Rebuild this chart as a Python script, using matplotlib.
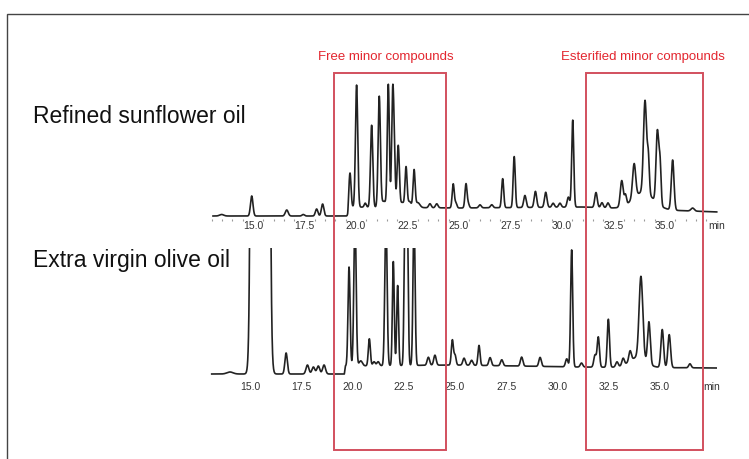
import numpy as np
import matplotlib.pyplot as plt
import matplotlib.transforms as mtransforms
from matplotlib.patches import Rectangle
from matplotlib.ticker import MultipleLocator

# Refined sunflower oil: peak retention time (min), height, width (sigma, min)
sun_rt = [13.48, 14.94, 16.64, 17.44, 18.09, 18.38, 19.71, 20.03, 20.45, 20.76,
          21.13, 21.35, 21.57, 21.78, 21.86, 22.05, 22.25, 22.43, 22.6, 22.82,
          23.0, 23.59, 23.92, 24.72, 24.85, 25.34, 25.45, 26.02, 26.59, 27.12,
          27.68, 28.20, 28.71, 29.21, 29.57, 29.9, 30.31, 30.52, 31.65, 31.94,
          32.23, 32.90, 33.08, 33.50, 34.03, 34.19, 34.63, 34.76, 35.37, 36.34,
          33.95]
sun_h = [1.5, 20, 6, 1.5, 7, 12, 34, 122, 4, 82,
         110, 6, 122, 111, 48, 62, 5, 40, 6, 37,
         5, 4, 4, 24, 5, 24, 4, 3, 3, 29,
         51, 12, 16, 15, 4, 4, 10, 87, 15, 5,
         5, 26, 10, 34, 92, 35, 72, 40, 50, 3,
         17]
sun_w = [0.1, 0.06, 0.07, 0.06, 0.06, 0.06, 0.05, 0.055, 0.05, 0.055,
         0.055, 0.12, 0.05, 0.05, 0.045, 0.055, 0.08, 0.05, 0.08, 0.05,
         0.1, 0.06, 0.06, 0.05, 0.05, 0.05, 0.05, 0.06, 0.06, 0.05,
         0.05, 0.06, 0.06, 0.06, 0.06, 0.06, 0.06, 0.05, 0.06, 0.06,
         0.06, 0.07, 0.05, 0.075, 0.075, 0.05, 0.065, 0.05, 0.065, 0.08,
         0.5]
sun_base_rt = [13.0, 19.6, 19.65, 25.0, 31.0, 37.6]
sun_base = [0, 0, 9, 8, 9, 4]

# Extra virgin olive oil
oli_rt = [14.02, 15.5, 16.76, 17.80, 18.09, 18.33, 18.61, 19.83, 20.12, 20.4,
          20.82, 21.05, 21.25, 21.63, 21.99, 22.20, 22.56, 22.67, 23.0, 23.70,
          24.02, 24.87, 25.0, 25.44, 25.81, 26.17, 26.71, 27.28, 28.25, 29.15,
          30.45, 30.69, 31.17, 31.83, 31.99, 32.48, 32.9, 33.2, 33.54, 34.07,
          34.46, 35.11, 35.45, 36.46, 33.9]
oli_h = [2, 60000, 21, 9, 7, 8, 9, 99, 150, 5,
         27, 4, 4, 150, 104, 80, 150, 150, 150, 8,
         10, 25, 10, 7, 5, 20, 8, 6, 9, 9,
         8, 117, 4, 12, 30, 48, 5, 7, 10, 82,
         42, 38, 33, 4, 10]
oli_w = [0.15, 0.15, 0.06, 0.07, 0.07, 0.07, 0.07, 0.05, 0.055, 0.08,
         0.05, 0.06, 0.06, 0.055, 0.045, 0.045, 0.045, 0.045, 0.05, 0.06,
         0.06, 0.05, 0.05, 0.06, 0.06, 0.05, 0.06, 0.06, 0.06, 0.06,
         0.06, 0.05, 0.06, 0.06, 0.055, 0.055, 0.06, 0.06, 0.06, 0.09,
         0.065, 0.065, 0.065, 0.06, 0.4]
oli_base_rt = [13.0, 19.6, 19.65, 25.0, 31.0, 37.8]
oli_base = [0, 0, 8, 9, 7, 6]

ticks = [15, 17.5, 20, 22.5, 25, 27.5, 30, 32.5, 35, 37.5]
tick_labels = ['15.0', '17.5', '20.0', '22.5', '25.0', '27.5', '30.0', '32.5', '35.0', 'min']

free_zone = (18.93, 24.37)
ester_zone = (31.17, 36.84)
zone_names = ['Free minor compounds', 'Esterified minor compounds']


def trace(t, rt, h, w, base_rt, base):
    y = np.interp(t, base_rt, base)
    for c, a, s in zip(rt, h, w):
        y = y + a * np.exp(-0.5 * ((t - c) / s) ** 2)
    return y


fig = plt.figure(figsize=(7.49, 4.59), dpi=100)
W, H = 749, 459
line_col = '#222222'

# top chromatogram
ax1 = fig.add_axes([209.7 / W, (H - 219) / H, 513 / W, 146 / H])
t1 = np.linspace(13.06, 37.51, 4000)
ax1.plot(t1, trace(t1, sun_rt, sun_h, sun_w, sun_base_rt, sun_base), color=line_col, lw=1.2)
ax1.set_xlim(12.9, 37.8)
ax1.set_ylim(-3, 143)

# bottom chromatogram
ax2 = fig.add_axes([207 / W, (H - 376) / H, 510.4 / W, 128 / H])
t2 = np.linspace(13.13, 37.77, 4000)
ax2.plot(t2, trace(t2, oli_rt, oli_h, oli_w, oli_base_rt, oli_base), color=line_col, lw=1.2)
ax2.set_xlim(12.9, 37.8)
ax2.set_ylim(-2, 126)

for ax, pad in [(ax1, 1.5), (ax2, 4)]:
    for sp in ax.spines.values():
        sp.set_visible(False)
    ax.set_yticks([])
    ax.set_xticks(ticks)
    ax.set_xticklabels(tick_labels)
    ax.tick_params(axis='x', length=0, pad=pad, labelsize=7.5, labelcolor='#333333')
    for lab in ax.get_xticklabels():
        lab.set_fontfamily('Liberation Sans')
    ax.patch.set_visible(False)

# dotted minor ticks under the sunflower trace
ax1.xaxis.set_minor_locator(MultipleLocator(0.5))
ax1.tick_params(axis='x', which='minor', length=1.5, width=0.8, color='#999999')

# sample names
fig.text(33 / W, (H - 123) / H, 'Refined sunflower oil', fontsize=16.5,
         family='Liberation Sans', va='baseline', ha='left', color='#111111')
fig.text(33 / W, (H - 267) / H, 'Extra virgin olive oil', fontsize=16.5,
         family='Liberation Sans', va='baseline', ha='left', color='#111111')

# red boxes
red = '#d2505e'
tr = mtransforms.blended_transform_factory(ax1.transData, fig.transFigure)
y0, y1 = (H - 450) / H, (H - 73) / H
for (a, b), name, dx in zip([free_zone, ester_zone], zone_names, [-0.2, -0.1]):
    rect = Rectangle((a, y0), b - a, y1 - y0, transform=tr, fill=False,
                     edgecolor=red, lw=1.4, clip_on=False)
    fig.add_artist(rect)
    fig.text((a + b) / 2 + dx, (H - 57) / H, name, transform=tr, color='#e3262f',
             fontsize=9.5, family='Liberation Sans', ha='center', va='center')

# outer frame
frame = Rectangle((7 / W, -0.05), 1.2, (H - 14) / H + 0.05, transform=fig.transFigure,
                  fill=False, edgecolor='#444444', lw=1.0, clip_on=False)
fig.add_artist(frame)

fig.savefig('out.png', dpi=100)
